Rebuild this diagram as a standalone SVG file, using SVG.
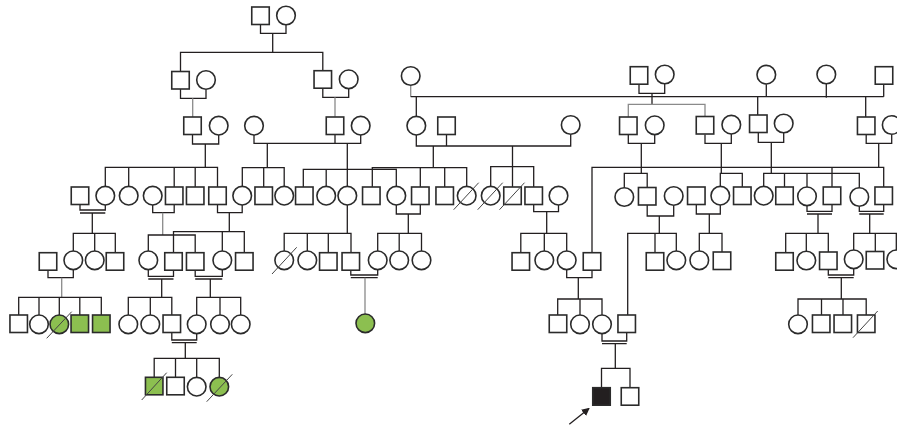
<svg xmlns="http://www.w3.org/2000/svg" width="897" height="427" viewBox="0 0 897 427">
<style>
.m{fill:#fff;stroke:#2b2b2b;stroke-width:1.6}
.f{fill:#fff;stroke:#2b2b2b;stroke-width:1.6}
.a{fill:#8cbf50}
.b{fill:#231f20}
.s{stroke:#444;stroke-width:1;fill:none}
.l{fill:none;stroke:#231f20;stroke-width:1.3}
.g{fill:none;stroke:#8a8a8a;stroke-width:1.3}
</style>
<defs>
<rect id="sq" x="-8.75" y="0" width="17.5" height="17.5"/>
<marker id="arr" markerWidth="8" markerHeight="8" refX="7" refY="4" orient="auto" markerUnits="userSpaceOnUse"><path d="M0,0 L8,4 L0,8 z" fill="#231f20"/></marker>
</defs>
<rect width="897" height="427" fill="#fff"/>
<g id="connectors">
<path class="l" d="M260.5 24.5V33.3H286V24.8M272.7 33.3V52.3M180.5 71.5V52.3H322.8V70.7"/>
<path class="l" d="M180.5 89V98.3H206V89.3M322.8 88.2V97.3H348.7V88.6M639 84.2V93.3H664.7V84M652 93.3V104.3"/>
<path class="g" d="M192.7 98.3V117M335 97.3V116.7M628.3 117V104.3H705V117M410.7 85.3V96.7"/>
<path class="l" d="M410.7 96.7H883.7M766.3 84.2V96.7M826.3 84V97.7M883.7 84.2V96.7M416.3 96.7V116.4M757.7 96.7V115M865.7 96.7V117"/>
<path class="l" d="M192.5 134.5V144H218.7V135M205.3 144V167.3M254 135V143.3H360.7V135M335 134.5V143.3M267.3 143.3V167.7M347.3 143.3V169.3M416.3 135V146H570.7V134.5M446.5 134.5V146M433.3 146V167.7M512.5 146V187M628.3 134.5V143.3H654.7V135M641.3 143.3V173.3M705 134.5V143.3H731.3V134M721.3 143.3V173.3M758.3 132.5V142.3H783.7V133M771.3 142.3V173.3M866.2 134.5V143.3H891.7V134.5M878.7 143.3V167.3"/>
<path class="l" d="M105.3 186.4V167.3H217.5V187M128.7 167.3V186.4M174.2 167.3V187M195.2 167.3V187M242.3 186.4V167.7H284.2V186.4M263.7 167.7V187M303.3 187V169.3H396.3V186.4M326.2 169.3V186.4M347.3 169.3V186.4M372.3 187V167.7H466.7V186.4M420.3 167.7V187M444.7 167.7V187M490.7 186.4V166.7H533.7V187M592 252.7V167.3H883.7V187M832 167.3V187M624.3 187.7V173.3H647.2V187M720.3 186.4V173.3H742.3V187M763.7 186.4V173.3H859.3V188M784.5 173.3V187M807 173.3V187"/>
<path class="l" d="M80 204.5V210H105.3V205M80 213H105.3M92.3 213V233.3M152.7 205V212.7H174.2V204.5M217.5 204.5V212.7H242.2V205M229.3 212.7V231.7M396.3 205V214H420.3V204.5M408.3 214V233.3M533.7 204.5V211.7H558.5V205M546.7 211.7V233.3M647.2 204.5V216H673.7V205.4M659.3 216V233.3M696.3 204.5V214H720.3V205M709.3 214V233.3M807 206V211.3H832V204.5M807 214H832M818 214V233.3M859.3 206.6V211.3H883.7V204.5M859.3 214H883.7M869.7 214V233.3M347.3 205V233.3"/>
<path class="g" d="M162.7 212.7V235"/>
<path class="l" d="M73.3 251V233.3H115.3V252.7M94.7 233.3V251M148.3 251V235H195.2V252.7M173.5 252.7V231.7H244.3V252.7M222.3 231.7V251M284.2 251V233.3H351V252.7M307.3 233.3V251M328.3 233.3V252.7M377.7 251V233.3H421.5V251M399.2 233.3V251M520.8 252.7V233.3H566.7V251M544.3 233.3V251M627.7 315V233.3H676.3V251M655 233.3V252.7M699.3 251V233.3H722V252.7M785.7 252.7V233.3H828.3V252.7M806.3 233.3V251M853.7 250V233.3H897M875.3 233.3V252.7M896.3 233.3V250"/>
<path class="l" d="M48 270V277.7H73.3V269.6M148.3 269.6V276.3H173.5V270M148.3 279H173.5M161.7 279V297.3M195.2 270V276.3H222.3V269.6M195.2 279H222.3M210.3 279V297.3M350.8 270V275H377.7V269.6M350.8 277.7H377.7M566.7 269.6V277.7H592V270M578.3 277.7V299M828.3 270V275H853.7V269M828.3 277.7H853.7M841.3 277.7V299"/>
<path class="g" d="M61.7 277.7V297.3M365 277.7V314"/>
<path class="l" d="M18.7 315V297.3H101.3V315M39 297.3V315M59.3 297.3V315M79.8 297.3V315M128.3 315V297.3H171.8V315M150.3 297.3V315M196.7 315V297.3H240.7V315M220 297.3V315M557.7 315V299H602V315M580 299V315M798 315V299H866.2V315M821.5 299V315M843 299V315"/>
<path class="l" d="M171.8 332.5V340H196.7V333.6M171.8 342.7H196.7M185.3 342.7V358.3M602 333.6V341H626.7V332.5M602 343.7H626.7M615.3 343.7V368.3M154.2 377.3V358.3H219.3V377.4M175.5 358.3V377.3M196.7 358.3V377.4M601.5 387.7V368.3H630V387.7"/>
<path class="l" d="M569.3 424.3L589 408.5" marker-end="url(#arr)"/>
</g>
<g id="I-1"><use href="#sq" class="m" x="260.5" y="7"/></g>
<g id="I-2"><circle class="f" cx="286" cy="15.5" r="9.3"/></g>
<g id="II-1"><use href="#sq" class="m" x="180.5" y="71.5"/></g>
<g id="II-2"><circle class="f" cx="206" cy="80" r="9.3"/></g>
<g id="II-3"><use href="#sq" class="m" x="322.8" y="70.7"/></g>
<g id="II-4"><circle class="f" cx="348.7" cy="79.3" r="9.3"/></g>
<g id="II-5"><circle class="f" cx="410.7" cy="76" r="9.3"/></g>
<g id="II-6"><use href="#sq" class="m" x="639" y="66.7"/></g>
<g id="II-7"><circle class="f" cx="664.7" cy="74.5" r="9.3"/></g>
<g id="II-8"><circle class="f" cx="766.3" cy="74.7" r="9.3"/></g>
<g id="II-9"><circle class="f" cx="826.3" cy="74.5" r="9.3"/></g>
<g id="II-10"><use href="#sq" class="m" x="884" y="66.7"/></g>
<g id="III-1"><use href="#sq" class="m" x="192.5" y="117"/></g>
<g id="III-2"><circle class="f" cx="218.7" cy="125.7" r="9.3"/></g>
<g id="III-3"><circle class="f" cx="254" cy="125.7" r="9.3"/></g>
<g id="III-4"><use href="#sq" class="m" x="335" y="117"/></g>
<g id="III-5"><circle class="f" cx="360.7" cy="125.7" r="9.3"/></g>
<g id="III-6"><circle class="f" cx="416.3" cy="125.7" r="9.3"/></g>
<g id="III-7"><use href="#sq" class="m" x="446.5" y="117"/></g>
<g id="III-8"><circle class="f" cx="570.7" cy="125" r="9.3"/></g>
<g id="III-9"><use href="#sq" class="m" x="628.3" y="117"/></g>
<g id="III-10"><circle class="f" cx="654.7" cy="125.3" r="9.3"/></g>
<g id="III-11"><use href="#sq" class="m" x="705" y="116.5"/></g>
<g id="III-12"><circle class="f" cx="731.3" cy="124.7" r="9.3"/></g>
<g id="III-13"><use href="#sq" class="m" x="758.3" y="115"/></g>
<g id="III-14"><circle class="f" cx="783.7" cy="123.5" r="9.3"/></g>
<g id="III-15"><use href="#sq" class="m" x="866.2" y="117"/></g>
<g id="III-16"><circle class="f" cx="891.7" cy="125" r="9.3"/></g>
<g id="IV-1"><use href="#sq" class="m" x="80" y="187"/></g>
<g id="IV-2"><circle class="f" cx="105.3" cy="195.7" r="9.3"/></g>
<g id="IV-3"><circle class="f" cx="128.7" cy="195.7" r="9.3"/></g>
<g id="IV-4"><circle class="f" cx="152.7" cy="195.7" r="9.3"/></g>
<g id="IV-5"><use href="#sq" class="m" x="174.2" y="187"/></g>
<g id="IV-6"><use href="#sq" class="m" x="195.2" y="187"/></g>
<g id="IV-7"><use href="#sq" class="m" x="217.5" y="187"/></g>
<g id="IV-8"><circle class="f" cx="242.2" cy="195.7" r="9.3"/></g>
<g id="IV-9"><use href="#sq" class="m" x="263.7" y="187"/></g>
<g id="IV-10"><circle class="f" cx="284.2" cy="195.7" r="9.3"/></g>
<g id="IV-11"><use href="#sq" class="m" x="304.3" y="187"/></g>
<g id="IV-12"><circle class="f" cx="326.2" cy="195.7" r="9.3"/></g>
<g id="IV-13"><circle class="f" cx="347.3" cy="195.7" r="9.3"/></g>
<g id="IV-14"><use href="#sq" class="m" x="371.3" y="187"/></g>
<g id="IV-15"><circle class="f" cx="396.3" cy="195.7" r="9.3"/></g>
<g id="IV-16"><use href="#sq" class="m" x="420.3" y="187"/></g>
<g id="IV-17"><use href="#sq" class="m" x="444.7" y="187"/></g>
<g id="IV-18"><circle class="f" cx="466.7" cy="195.7" r="9.3"/><path class="s" d="M453.7 209.7L478.7 182.7"/></g>
<g id="IV-19"><circle class="f" cx="490.7" cy="195.7" r="9.3"/><path class="s" d="M477.7 209.7L502.7 182.7"/></g>
<g id="IV-20"><use href="#sq" class="m" x="512.5" y="187"/><path class="s" d="M499.5 209.7L524.5 182.7"/></g>
<g id="IV-21"><use href="#sq" class="m" x="533.7" y="187"/></g>
<g id="IV-22"><circle class="f" cx="558.5" cy="195.7" r="9.3"/></g>
<g id="IV-23"><circle class="f" cx="624.3" cy="197" r="9.3"/></g>
<g id="IV-24"><use href="#sq" class="m" x="647.2" y="187.5"/></g>
<g id="IV-25"><circle class="f" cx="673.7" cy="196" r="9.3"/></g>
<g id="IV-26"><use href="#sq" class="m" x="696.3" y="187"/></g>
<g id="IV-27"><circle class="f" cx="720.3" cy="195.7" r="9.3"/></g>
<g id="IV-28"><use href="#sq" class="m" x="742.3" y="187"/></g>
<g id="IV-29"><circle class="f" cx="763.7" cy="195.7" r="9.3"/></g>
<g id="IV-30"><use href="#sq" class="m" x="784.5" y="187"/></g>
<g id="IV-31"><circle class="f" cx="807" cy="196.3" r="9.3"/></g>
<g id="IV-32"><use href="#sq" class="m" x="832" y="187"/></g>
<g id="IV-33"><circle class="f" cx="859.3" cy="197" r="9.3"/></g>
<g id="IV-34"><use href="#sq" class="m" x="883.7" y="187"/></g>
<g id="V-1"><use href="#sq" class="m" x="48" y="252.7"/></g>
<g id="V-2"><circle class="f" cx="73.3" cy="260.3" r="9.3"/></g>
<g id="V-3"><circle class="f" cx="94.7" cy="260.3" r="9.3"/></g>
<g id="V-4"><use href="#sq" class="m" x="115" y="252.7"/></g>
<g id="V-5"><circle class="f" cx="148.3" cy="260.3" r="9.3"/></g>
<g id="V-6"><use href="#sq" class="m" x="173.5" y="252.7"/></g>
<g id="V-7"><use href="#sq" class="m" x="195.2" y="252.7"/></g>
<g id="V-8"><circle class="f" cx="222.3" cy="260.3" r="9.3"/></g>
<g id="V-9"><use href="#sq" class="m" x="244.3" y="252.7"/></g>
<g id="V-10"><circle class="f" cx="284.2" cy="260.3" r="9.3"/><path class="s" d="M272 274L296.7 247.3"/></g>
<g id="V-11"><circle class="f" cx="307.3" cy="260.3" r="9.3"/></g>
<g id="V-12"><use href="#sq" class="m" x="328.3" y="252.7"/></g>
<g id="V-13"><use href="#sq" class="m" x="350.8" y="252.7"/></g>
<g id="V-14"><circle class="f" cx="377.7" cy="260.3" r="9.3"/></g>
<g id="V-15"><circle class="f" cx="399.2" cy="260.3" r="9.3"/></g>
<g id="V-16"><circle class="f" cx="421.5" cy="260.3" r="9.3"/></g>
<g id="V-17"><use href="#sq" class="m" x="520.8" y="252.7"/></g>
<g id="V-18"><circle class="f" cx="544.3" cy="260.3" r="9.3"/></g>
<g id="V-19"><circle class="f" cx="566.7" cy="260.3" r="9.3"/></g>
<g id="V-20"><use href="#sq" class="m" x="592" y="252.7"/></g>
<g id="V-21"><use href="#sq" class="m" x="655" y="252.7"/></g>
<g id="V-22"><circle class="f" cx="676.3" cy="260.3" r="9.3"/></g>
<g id="V-23"><circle class="f" cx="699.3" cy="260.3" r="9.3"/></g>
<g id="V-24"><use href="#sq" class="m" x="722" y="252"/></g>
<g id="V-25"><use href="#sq" class="m" x="784.5" y="252.7"/></g>
<g id="V-26"><circle class="f" cx="806.3" cy="260.5" r="9.3"/></g>
<g id="V-27"><use href="#sq" class="m" x="828.3" y="252"/></g>
<g id="V-28"><circle class="f" cx="853.7" cy="259.3" r="9.3"/></g>
<g id="V-29"><use href="#sq" class="m" x="875" y="251.5"/></g>
<g id="V-30"><circle class="f" cx="896.3" cy="259.3" r="9.3"/></g>
<g id="VI-1"><use href="#sq" class="m" x="18.7" y="315"/></g>
<g id="VI-2"><circle class="f" cx="39" cy="324.3" r="9.3"/></g>
<g id="VI-3"><circle class="f a" cx="59.3" cy="324.3" r="9.3"/><path class="s" d="M46.7 338.3L71.7 311.7"/></g>
<g id="VI-4"><use href="#sq" class="m a" x="79.8" y="315"/></g>
<g id="VI-5"><use href="#sq" class="m a" x="101.3" y="315"/></g>
<g id="VI-6"><circle class="f" cx="128.3" cy="324.3" r="9.3"/></g>
<g id="VI-7"><circle class="f" cx="150.3" cy="324.3" r="9.3"/></g>
<g id="VI-8"><use href="#sq" class="m" x="171.8" y="315"/></g>
<g id="VI-9"><circle class="f" cx="196.7" cy="324.3" r="9.3"/></g>
<g id="VI-10"><circle class="f" cx="220" cy="324.3" r="9.3"/></g>
<g id="VI-11"><circle class="f" cx="240.7" cy="324.3" r="9.3"/></g>
<g id="VI-12"><circle class="f a" cx="365.3" cy="323.3" r="9.3"/></g>
<g id="VI-13"><use href="#sq" class="m" x="558" y="315"/></g>
<g id="VI-14"><circle class="f" cx="580" cy="324.3" r="9.3"/></g>
<g id="VI-15"><circle class="f" cx="602" cy="324.3" r="9.3"/></g>
<g id="VI-16"><use href="#sq" class="m" x="626.7" y="315"/></g>
<g id="VI-17"><circle class="f" cx="798" cy="324.3" r="9.3"/></g>
<g id="VI-18"><use href="#sq" class="m" x="821.2" y="315"/></g>
<g id="VI-19"><use href="#sq" class="m" x="842.8" y="315"/></g>
<g id="VI-20"><use href="#sq" class="m" x="866.2" y="315"/><path class="s" d="M853 337.7L877.7 311"/></g>
<g id="VII-1"><use href="#sq" class="m a" x="154.2" y="377.3"/><path class="s" d="M141.7 400L166.7 372.7"/></g>
<g id="VII-2"><use href="#sq" class="m" x="175.5" y="377.3"/></g>
<g id="VII-3"><circle class="f" cx="196.7" cy="386.7" r="9.3"/></g>
<g id="VII-4"><circle class="f a" cx="219.3" cy="386.7" r="9.3"/><path class="s" d="M206.7 401.7L232.3 374.3"/></g>
<g id="VII-5"><use href="#sq" class="m b" x="601.5" y="387.7"/></g>
<g id="VII-6"><use href="#sq" class="m" x="630" y="387.7"/></g>
</svg>
